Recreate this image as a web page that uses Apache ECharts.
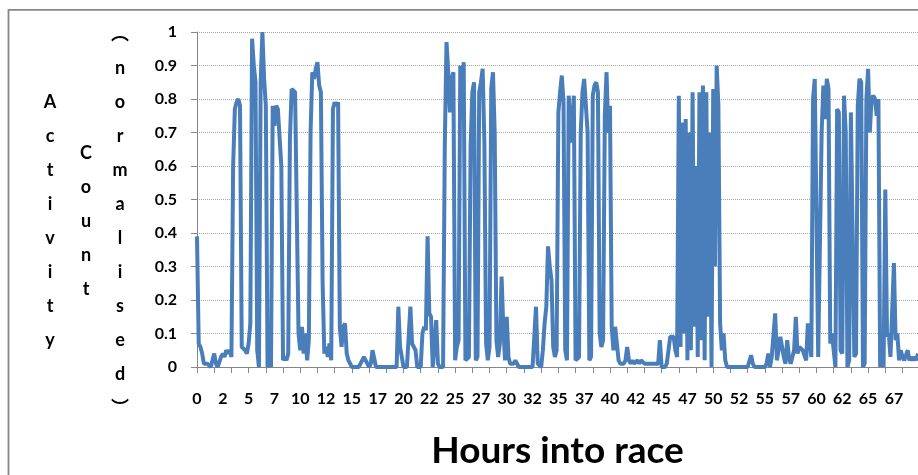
<!DOCTYPE html>
<html>
<head>
<meta charset="utf-8">
<title>Activity count</title>
<script src="https://cdn.jsdelivr.net/npm/echarts@6/dist/echarts.min.js"></script>
<style>
	html, body { margin: 0; padding: 0; background: #fff; }
	#chart { width: 918px; height: 475px; }
</style>
</head>
<body>
<div id="chart"></div>
<script>
// 10-minute samples, one row per hour into the race
var activity = [
	0.39, 0.07, 0.06, 0.04, 0.01, 0.01,
	0.01, 0.01, 0.00, 0.00, 0.04, 0.01,
	0.00, 0.00, 0.03, 0.04, 0.03, 0.05,
	0.04, 0.05, 0.03, 0.60, 0.77, 0.79,
	0.80, 0.78, 0.06, 0.06, 0.05, 0.04,
	0.07, 0.13, 0.98, 0.90, 0.85, 0.05,
	0.00, 0.85, 1.00, 0.86, 0.78, 0.00,
	0.02, 0.00, 0.78, 0.72, 0.78, 0.77,
	0.77, 0.60, 0.02, 0.03, 0.02, 0.04,
	0.68, 0.83, 0.83, 0.82, 0.82, 0.10,
	0.05, 0.12, 0.04, 0.10, 0.02, 0.08,
	0.70, 0.88, 0.86, 0.89, 0.91, 0.84,
	0.82, 0.25, 0.04, 0.06, 0.03, 0.07,
	0.02, 0.77, 0.79, 0.78, 0.79, 0.12,
	0.06, 0.12, 0.13, 0.04, 0.02, 0.01,
	0.00, 0.00, 0.00, 0.00, 0.00, 0.00,
	0.02, 0.03, 0.02, 0.01, 0.00, 0.01,
	0.05, 0.05, 0.00, 0.00, 0.00, 0.00,
	0.00, 0.00, 0.00, 0.00, 0.00, 0.00,
	0.00, 0.00, 0.00, 0.18, 0.06, 0.03,
	0.00, 0.00, 0.00, 0.00, 0.18, 0.07,
	0.07, 0.05, 0.00, 0.00, 0.00, 0.10,
	0.12, 0.11, 0.39, 0.16, 0.15, 0.00,
	0.00, 0.14, 0.01, 0.00, 0.00, 0.00,
	0.66, 0.97, 0.88, 0.76, 0.86, 0.88,
	0.02, 0.06, 0.08, 0.90, 0.74, 0.91,
	0.02, 0.02, 0.03, 0.66, 0.82, 0.85,
	0.02, 0.03, 0.82, 0.85, 0.89, 0.67,
	0.07, 0.02, 0.06, 0.83, 0.88, 0.70,
	0.08, 0.03, 0.07, 0.27, 0.12, 0.02,
	0.15, 0.03, 0.01, 0.01, 0.01, 0.02,
	0.02, 0.00, 0.00, 0.00, 0.00, 0.00,
	0.00, 0.00, 0.00, 0.00, 0.00, 0.18,
	0.01, 0.01, 0.00, 0.05, 0.13, 0.18,
	0.36, 0.30, 0.26, 0.06, 0.03, 0.05,
	0.76, 0.82, 0.87, 0.79, 0.05, 0.02,
	0.81, 0.81, 0.67, 0.81, 0.02, 0.02,
	0.03, 0.70, 0.82, 0.86, 0.86, 0.70,
	0.02, 0.03, 0.81, 0.84, 0.85, 0.82,
	0.10, 0.06, 0.08, 0.75, 0.88, 0.70,
	0.78, 0.12, 0.05, 0.12, 0.12, 0.02,
	0.01, 0.01, 0.01, 0.02, 0.06, 0.02,
	0.01, 0.02, 0.01, 0.01, 0.02, 0.01,
	0.02, 0.02, 0.01, 0.01, 0.01, 0.01,
	0.01, 0.01, 0.01, 0.01, 0.01, 0.08,
	0.00, 0.00, 0.00, 0.01, 0.05, 0.09,
	0.09, 0.09, 0.05, 0.03, 0.81, 0.06,
	0.73, 0.10, 0.74, 0.02, 0.70, 0.05,
	0.82, 0.12, 0.60, 0.03, 0.82, 0.08,
	0.84, 0.02, 0.82, 0.15, 0.70, 0.00,
	0.83, 0.30, 0.90, 0.78, 0.13, 0.05,
	0.10, 0.02, 0.00, 0.00, 0.00, 0.00,
	0.00, 0.00, 0.00, 0.00, 0.00, 0.00,
	0.00, 0.00, 0.00, 0.00, 0.035, 0.01,
	0.00, 0.00, 0.00, 0.00, 0.00, 0.00,
	0.00, 0.01, 0.04, 0.00, 0.03, 0.03,
	0.16, 0.02, 0.05, 0.09, 0.09, 0.03,
	0.01, 0.08, 0.03, 0.01, 0.01, 0.05,
	0.15, 0.04, 0.06, 0.06, 0.05, 0.05,
	0.02, 0.13, 0.13, 0.03, 0.80, 0.86,
	0.86, 0.03, 0.03, 0.70, 0.84, 0.74,
	0.86, 0.83, 0.07, 0.10, 0.05, 0.00,
	0.77, 0.76, 0.05, 0.04, 0.81, 0.70,
	0.00, 0.02, 0.76, 0.76, 0.03, 0.04,
	0.78, 0.86, 0.85, 0.00, 0.01, 0.80,
	0.89, 0.70, 0.80, 0.81, 0.80, 0.75,
	0.80, 0.00, 0.10, 0.00, 0.53, 0.09,
	0.10, 0.03, 0.03, 0.31, 0.08, 0.10,
	0.02, 0.05, 0.03, 0.02, 0.02, 0.05,
	0.02, 0.03, 0.02, 0.03, 0.02, 0.04
];

// hour labels shown every 150 minutes (every 15th sample)
var tickLabels = ['0', '2', '5', '7', '10', '12', '15', '17', '20', '22', '25', '27', '30', '32',
	'35', '37', '40', '42', '45', '47', '50', '52', '55', '57', '60', '62', '65', '67'];

var minutes = [];
for (var i = 0; i < activity.length; i++) {
	minutes.push(String(i * 10));
}

var titleCols = ['Activity', 'Count', '\uFE35normalised\uFE36'];
var titleX = [50, 86, 120];

var labelFont = { fontFamily: 'Lato', fontWeight: 'bold', fontSize: 16, color: '#000' };

var myChart = echarts.init(document.getElementById('chart'), null, { renderer: 'canvas' });

var graphics = [{
	type: 'rect',
	shape: { x: 8.5, y: 9.8, width: 1000, height: 1000 },
	style: { fill: 'none', stroke: '#878787', lineWidth: 1.8 },
	silent: true
}];
for (var c = 0; c < titleCols.length; c++) {
	graphics.push({
		type: 'text',
		x: titleX[c],
		y: 221,
		style: {
			text: titleCols[c].split('').join('\n'),
			fontFamily: 'Lato, "Noto Sans CJK SC"',
			fontWeight: 'bold',
			fontSize: 18,
			lineHeight: 34,
			fill: '#000',
			align: 'center',
			verticalAlign: 'middle'
		}
	});
}

var option = {
	animation: false,
	backgroundColor: '#fff',
	grid: { left: 197, top: 32, bottom: 103, right: -6.4, containLabel: false },
	xAxis: {
		type: 'category',
		data: minutes,
		boundaryGap: false,
		name: 'Hours into race',
		nameLocation: 'middle',
		nameGap: 66,
		nameTextStyle: { fontFamily: 'Lato', fontWeight: 'bold', fontSize: 37, color: '#000' },
		axisLine: { lineStyle: { color: '#868686', width: 1 } },
		axisTick: { show: true, interval: 9, length: 6, lineStyle: { color: '#868686' } },
		axisLabel: Object.assign({
			interval: 14,
			margin: 24,
			formatter: function (val, idx) { return tickLabels[idx / 15]; }
		}, labelFont),
		splitLine: { show: false }
	},
	yAxis: {
		type: 'value',
		min: 0,
		max: 1,
		interval: 0.1,
		axisLine: { show: true, lineStyle: { color: '#868686', width: 1 } },
		axisTick: { show: true, length: 6, lineStyle: { color: '#868686' } },
		axisLabel: Object.assign({ margin: 20 }, labelFont),
		splitLine: { lineStyle: { color: '#a6a6a6', type: 'dotted', width: 1 } }
	},
	series: [{
		type: 'line',
		data: activity,
		showSymbol: false,
		symbol: 'none',
		lineStyle: { color: '#4a7ebb', width: 4 },
		itemStyle: { color: '#4a7ebb' }
	}],
	graphic: graphics
};

myChart.setOption(option);
</script>
</body>
</html>
